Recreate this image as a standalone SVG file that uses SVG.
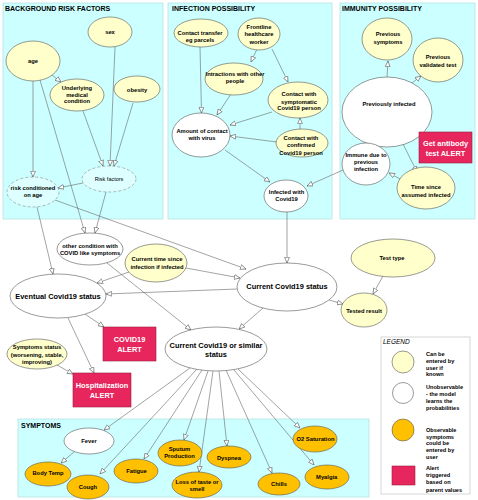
<svg xmlns="http://www.w3.org/2000/svg" width="478" height="500" viewBox="0 0 478 500">
<defs>
<marker id="arr" viewBox="0 0 10 10" refX="10" refY="5" markerWidth="6" markerHeight="6" markerUnits="userSpaceOnUse" orient="auto">
<path d="M0.5,1 L10,5 L0.5,9 Z" fill="#fff" stroke="#555" stroke-width="1"/>
</marker>
<style>
text{font-family:"Liberation Sans",Arial,sans-serif;font-weight:bold;fill:#000;text-anchor:middle}
.t{font-size:7px;text-anchor:start}
.s{font-size:5.8px}
.b{font-size:7.4px}
.w{font-size:7.4px;fill:#fff}
.l{font-size:5.6px;text-anchor:start}
.panel{fill:#CCFFFF;stroke:#B8E2E2;stroke-width:0.8}
.y{fill:#FFFFCC;stroke:#555;stroke-width:0.6}
.u{fill:#FFFFFF;stroke:#555;stroke-width:0.6}
.o{fill:#FFC000;stroke:#555;stroke-width:0.6}
.d{fill:#DDFFFF;stroke:#888;stroke-width:0.6;stroke-dasharray:3 2}
.a{fill:#E8265E;stroke:#9B1B3E;stroke-width:0.6}
.e{stroke:#666;stroke-width:0.6;fill:none;marker-end:url(#arr)}
</style>
</defs>

<g id="panels">
<rect class="panel" x="3" y="3" width="160" height="216"/>
<rect class="panel" x="168" y="3" width="164" height="216"/>
<rect class="panel" x="340" y="3" width="135" height="216"/>
<rect class="panel" x="18" y="419" width="351" height="78"/>
<text class="t" x="5" y="11">BACKGROUND RISK FACTORS</text>
<text class="t" x="172" y="11">INFECTION POSSIBILITY</text>
<text class="t" x="342" y="11">IMMUNITY POSSIBILITY</text>
<text class="t" x="21" y="428">SYMPTOMS</text>
</g>

<g id="connectors">
<line class="e" x1="52" y1="75" x2="61" y2="82"/>
<line class="e" x1="33" y1="81" x2="33" y2="177"/>
<line class="e" x1="40" y1="80" x2="85" y2="233"/>
<line class="e" x1="115" y1="47" x2="110" y2="166"/>
<line class="e" x1="133" y1="103" x2="114" y2="166"/>
<line class="e" x1="83" y1="111" x2="103" y2="166"/>
<line class="e" x1="83" y1="183" x2="58" y2="188"/>
<line class="e" x1="106" y1="192" x2="95" y2="233"/>
<line class="e" x1="37" y1="207" x2="53" y2="274"/>
<line class="e" x1="55" y1="200" x2="246" y2="269"/>
<line class="e" x1="107" y1="263" x2="191" y2="330"/>
<line class="e" x1="129" y1="272" x2="97" y2="283"/>
<line class="e" x1="186" y1="268" x2="240" y2="278"/>
<line class="e" x1="237" y1="289" x2="106" y2="294"/>
<line class="e" x1="85" y1="314" x2="104" y2="327"/>
<line class="e" x1="68" y1="318" x2="94" y2="373"/>
<line class="e" x1="57" y1="365" x2="73" y2="374"/>
<line class="e" x1="287" y1="212" x2="287" y2="263"/>
<line class="e" x1="329" y1="300" x2="343" y2="304"/>
<line class="e" x1="383" y1="276" x2="373" y2="294"/>
<line class="e" x1="263" y1="308" x2="239" y2="329"/>
<line class="e" x1="200" y1="47" x2="201.5" y2="113"/>
<line class="e" x1="257" y1="49" x2="251" y2="62"/>
<line class="e" x1="272" y1="49" x2="288" y2="82"/>
<line class="e" x1="231" y1="94" x2="217" y2="115"/>
<line class="e" x1="272" y1="112" x2="230" y2="125"/>
<line class="e" x1="300" y1="130" x2="300" y2="118"/>
<line class="e" x1="277" y1="142" x2="230" y2="136"/>
<line class="e" x1="225" y1="150" x2="270" y2="182"/>
<line class="e" x1="343" y1="170" x2="307" y2="186"/>
<line class="e" x1="387" y1="77" x2="388" y2="61"/>
<line class="e" x1="412" y1="83" x2="421" y2="76"/>
<line class="e" x1="412" y1="123" x2="423" y2="131"/>
<line class="e" x1="377" y1="128" x2="373" y2="141"/>
<line class="e" x1="395" y1="128" x2="417" y2="172"/>
<line class="e" x1="402" y1="180" x2="389" y2="173"/>
<line class="e" x1="190" y1="368" x2="104" y2="430"/>
<line class="e" x1="197" y1="369" x2="100" y2="474"/>
<line class="e" x1="202" y1="370" x2="144" y2="459"/>
<line class="e" x1="208" y1="371" x2="184" y2="440"/>
<line class="e" x1="213" y1="371" x2="199" y2="472"/>
<line class="e" x1="219" y1="371" x2="227" y2="446"/>
<line class="e" x1="226" y1="370" x2="272" y2="473"/>
<line class="e" x1="238" y1="369" x2="300" y2="428"/>
<line class="e" x1="234" y1="370" x2="314" y2="465"/>
<line class="e" x1="74" y1="452" x2="61" y2="463"/>
</g>

<g id="sex"><ellipse class="y" cx="110" cy="32" rx="22" ry="15"/><text class="s" x="110" y="34">sex</text></g>
<g id="age"><ellipse class="y" cx="33" cy="61" rx="27" ry="20"/><text class="s" x="33" y="63">age</text></g>
<g id="underlying"><ellipse class="y" cx="77" cy="95" rx="27" ry="16"/><text class="s" x="77" y="89.5">Underlying</text><text class="s" x="77" y="96.5">medical</text><text class="s" x="77" y="103">condition</text></g>
<g id="obesity"><ellipse class="y" cx="137" cy="89" rx="23" ry="13"/><text class="s" x="137" y="91.5">obesity</text></g>
<g id="riskfactors"><ellipse class="d" cx="109" cy="179" rx="27" ry="13"/><text class="s" style="font-weight:normal;font-size:5.5px" x="109" y="181">Risk factors</text></g>
<g id="riskage"><ellipse class="d" cx="33" cy="192" rx="26" ry="15"/><text class="s" x="33" y="190">risk conditioned</text><text class="s" x="33" y="197">on age</text></g>

<g id="contacttransfer"><ellipse class="y" cx="201" cy="33" rx="27" ry="14"/><text class="s" x="200" y="35">Contact transfer</text><text class="s" x="200" y="42">eg parcels</text></g>
<g id="frontline"><ellipse class="y" cx="259" cy="34" rx="21" ry="16"/><text class="s" x="259" y="29">Frontline</text><text class="s" x="259" y="36.4">healthcare</text><text class="s" x="259" y="43.8">worker</text></g>
<g id="interactions"><ellipse class="y" cx="234" cy="79" rx="29" ry="16"/><text class="s" x="235" y="76">Intractions with other</text><text class="s" x="235" y="83">people</text></g>
<g id="contactsymp"><ellipse class="y" cx="298" cy="100" rx="30" ry="18"/><text class="s" x="299" y="96.4">Contact with</text><text class="s" x="299" y="103.7">symptomatic</text><text class="s" x="299" y="110.4">Covid19 person</text></g>
<g id="amount"><ellipse class="u" cx="201" cy="135" rx="29" ry="22"/><text class="s" x="202" y="133">Amount of contact</text><text class="s" x="202" y="140.4">with virus</text></g>
<g id="contactconf"><ellipse class="y" cx="302" cy="143" rx="26" ry="14"/><text class="s" x="301" y="139.8">Contact with</text><text class="s" x="301" y="147.4">confirmed</text><text class="s" x="301" y="154.8">Covid19 person</text></g>
<g id="infected"><ellipse class="u" cx="286" cy="196" rx="22" ry="16"/><text class="s" x="286.5" y="194">Infected with</text><text class="s" x="286.5" y="201">Covid19</text></g>

<g id="prevsymptoms"><ellipse class="y" cx="387" cy="39" rx="25" ry="21"/><text class="s" x="388" y="36.4">Previous</text><text class="s" x="388" y="44">symptoms</text></g>
<g id="prevtest"><ellipse class="y" cx="438" cy="60" rx="25" ry="22"/><text class="s" x="438" y="59.4">Previous</text><text class="s" x="438" y="67">validated test</text></g>
<g id="previnfected"><ellipse class="u" cx="387" cy="112" rx="45" ry="35"/><text class="s" x="389" y="105.5">Previously infected</text></g>
<g id="antibody"><rect class="a" x="419" y="132" width="53" height="31"/><text class="w" x="445.5" y="146">Get antibody</text><text class="w" x="445.5" y="156">test ALERT</text></g>
<g id="immune"><ellipse class="u" cx="366" cy="164" rx="24" ry="21"/><text class="s" x="366" y="157">Immune due to</text><text class="s" x="366" y="164.4">previous</text><text class="s" x="366" y="171">infection</text></g>
<g id="timesince"><ellipse class="y" cx="426" cy="188" rx="29" ry="21"/><text class="s" x="426" y="189.4">Time since</text><text class="s" x="426" y="197">assumed infected</text></g>

<g id="othercond"><ellipse class="u" cx="90" cy="249" rx="33" ry="16"/><text class="s" x="90" y="248">other condition with</text><text class="s" x="90" y="255">COVID like symptoms</text></g>
<g id="currenttime"><ellipse class="y" cx="156" cy="263" rx="31" ry="19"/><text class="s" x="157" y="261.4">Current time since</text><text class="s" x="157" y="268.8">infection if infected</text></g>
<g id="eventual"><ellipse class="u" cx="58" cy="296" rx="48" ry="22"/><text class="b" x="58" y="298.7">Eventual Covid19 status</text></g>
<g id="covidalert"><rect class="a" x="103" y="327" width="53" height="34"/><text class="w" x="129.5" y="341.7">COVID19</text><text class="w" x="129.5" y="351.7">ALERT</text></g>
<g id="current"><ellipse class="u" cx="287" cy="287" rx="50" ry="24"/><text class="b" x="287" y="288.5">Current Covid19 status</text></g>
<g id="testtype"><ellipse class="y" cx="393" cy="258" rx="42" ry="19"/><text class="s" x="392" y="260.3">Test type</text></g>
<g id="testedresult"><ellipse class="y" cx="364" cy="310" rx="23" ry="17"/><text class="s" x="364" y="312.7">Tested result</text></g>
<g id="currentsimilar"><ellipse class="u" cx="216" cy="349" rx="51" ry="22"/><text class="b" x="216" y="347.7">Current Covid19 or similar</text><text class="b" x="216" y="356.7">status</text></g>
<g id="symptomsstatus"><ellipse class="y" cx="37" cy="354" rx="30" ry="15"/><text class="s" x="37" y="349.4">Symptoms status</text><text class="s" x="37" y="357">(worsening, stable,</text><text class="s" x="37" y="364.4">improving)</text></g>
<g id="hospalert"><rect class="a" x="73" y="373" width="58" height="34"/><text class="w" x="102" y="388.4">Hospitalization</text><text class="w" x="102" y="398.4">ALERT</text></g>

<g id="fever"><ellipse class="u" cx="89" cy="441" rx="25" ry="13"/><text class="s" x="89" y="443">Fever</text></g>
<g id="bodytemp"><ellipse class="o" cx="48" cy="474" rx="23" ry="12"/><text class="s" x="48" y="475">Body Temp</text></g>
<g id="cough"><ellipse class="o" cx="88" cy="487" rx="21" ry="12"/><text class="s" x="88" y="489">Cough</text></g>
<g id="fatigue"><ellipse class="o" cx="136" cy="471" rx="22" ry="12"/><text class="s" x="136.5" y="473">Fatigue</text></g>
<g id="sputum"><ellipse class="o" cx="180" cy="453" rx="22" ry="13"/><text class="s" x="179.5" y="451.4">Sputum</text><text class="s" x="179.5" y="458.2">Production</text></g>
<g id="losstaste"><ellipse class="o" cx="197" cy="485" rx="25" ry="13"/><text class="s" x="197" y="483.8">Loss of taste or</text><text class="s" x="197" y="491.4">smell</text></g>
<g id="dyspnea"><ellipse class="o" cx="229" cy="457" rx="22" ry="11"/><text class="s" x="229" y="459.8">Dyspnea</text></g>
<g id="chills"><ellipse class="o" cx="279" cy="484" rx="21" ry="11"/><text class="s" x="279" y="485.5">Chills</text></g>
<g id="o2sat"><ellipse class="o" cx="315" cy="439" rx="22" ry="13"/><text class="s" x="315.5" y="441.4">O2 Saturation</text></g>
<g id="myalgia"><ellipse class="o" cx="327" cy="477" rx="22" ry="12"/><text class="s" x="326.7" y="478.8">Myalgia</text></g>

<g id="legend">
<rect x="381" y="337" width="89" height="157" fill="#fff" stroke="#bbb" stroke-width="0.6"/>
<text x="383" y="343.5" style="font-size:6.5px;font-weight:normal;font-style:italic;text-anchor:start">LEGEND</text>
<circle class="y" cx="403" cy="362" r="11"/>
<circle class="u" cx="403" cy="393" r="10.5"/>
<circle class="o" cx="403" cy="430" r="11"/>
<rect class="a" x="392" y="466" width="23" height="19"/>
<text class="l" x="426" y="356">Can be</text><text class="l" x="426" y="363">entered by</text><text class="l" x="426" y="369.6">user if</text><text class="l" x="426" y="376.2">known</text>
<text class="l" x="426" y="389.4">Unobservable</text><text class="l" x="426" y="396.1">- the model</text><text class="l" x="426" y="402.8">learns the</text><text class="l" x="426" y="409.7">probabilities</text>
<text class="l" x="426" y="431.8">Observable</text><text class="l" x="426" y="438.6">symptoms</text><text class="l" x="426" y="445.4">could be</text><text class="l" x="426" y="452.1">entered by</text><text class="l" x="426" y="458.9">user</text>
<text class="l" x="426" y="470.4">Alert</text><text class="l" x="426" y="477.3">triggered</text><text class="l" x="426" y="484.4">based on</text><text class="l" x="426" y="491.6">parent values</text>
</g>
</svg>
